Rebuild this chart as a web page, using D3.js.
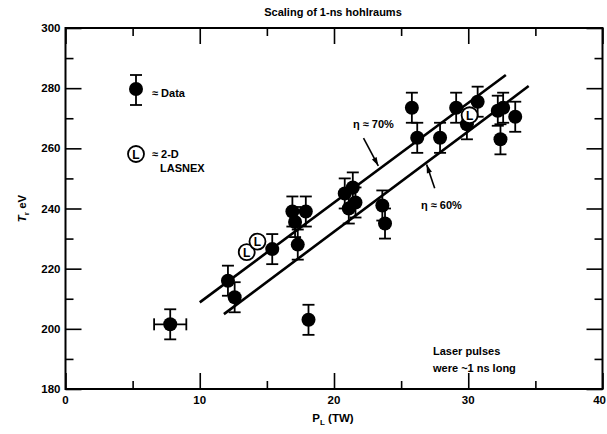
<!DOCTYPE html>
<html><head><meta charset="utf-8">
<script src="https://cdn.jsdelivr.net/npm/d3@7"></script>
<style>
body{margin:0;background:#fff;}
text{font-family:"Liberation Sans",Arial,sans-serif;font-weight:bold;fill:#000;}
</style></head>
<body><svg id="c" width="607" height="434"></svg>
<script>
// Data
const dataP = [7.8, 12.1, 12.6, 15.4, 16.9, 17.9, 17.1, 17.3, 18.1, 20.8, 21.4, 21.6, 21.1, 23.6, 23.8, 25.8, 26.2, 27.9, 29.1, 29.9, 30.7, 32.2, 32.6, 32.4, 33.5];
const dataT = [201.5, 216, 210.5, 226.5, 239, 239, 235.5, 228, 203, 245, 247, 242, 240, 241, 235, 273.5, 263.5, 263.5, 273.5, 268, 275.5, 272.5, 273.5, 263, 270.5];
const dataTErr = 5;
const dataPErr = [1.2, 0,0,0,0,0,0,0,0,0,0,0,0,0,0,0,0,0,0,0,0,0,0,0,0];
const lasnexP = [13.5, 14.3, 30.1];
const lasnexT = [225.5, 229, 271];
const line70 = [[10.0, 208.8], [32.8, 284.4]];
const line60 = [[11.8, 204.9], [34.5, 280.7]];
const xTicks = [0, 10, 20, 30, 40];
const xMinor = [5, 15, 25, 35];
const yTicks = [180, 200, 220, 240, 260, 280, 300];
const yMinor = [190, 210, 230, 250, 270, 290];

const svg = d3.select("#c");
const L = 65.5, R = 602.5, T = 28, B = 389;
const x = d3.scaleLinear().domain([0, 40]).range([L, R]);
const y = d3.scaleLinear().domain([180, 300]).range([B, T]);

// axes with inward ticks
function ax(gen, tr, vals, len) {
  svg.append("g").attr("transform", tr)
    .call(gen.tickValues(vals).tickSize(len).tickFormat(""))
    .call(g => g.select(".domain").remove())
    .call(g => g.selectAll("line").attr("stroke", "#000").attr("stroke-width", 1.6));
}
ax(d3.axisTop(x), `translate(0,${B})`, xTicks, 16);
ax(d3.axisTop(x), `translate(0,${B})`, xMinor, 8);
ax(d3.axisBottom(x), `translate(0,${T})`, xTicks, 16);
ax(d3.axisBottom(x), `translate(0,${T})`, xMinor, 8);
ax(d3.axisRight(y), `translate(${L},0)`, yTicks, 16);
ax(d3.axisRight(y), `translate(${L},0)`, yMinor, 8);
ax(d3.axisLeft(y), `translate(${R},0)`, yTicks, 16);
ax(d3.axisLeft(y), `translate(${R},0)`, yMinor, 8);

svg.append("rect").attr("x", L).attr("y", T).attr("width", R - L).attr("height", B - T)
  .attr("fill", "none").attr("stroke", "#000").attr("stroke-width", 2);

// tick labels
svg.append("g").selectAll("text").data(xTicks).join("text")
  .attr("x", d => d === 40 ? 606 : x(d)).attr("y", B + 15)
  .attr("text-anchor", d => d === 40 ? "end" : "middle")
  .attr("font-size", 11.5).text(d => d);
svg.append("g").selectAll("text").data(yTicks).join("text")
  .attr("x", L - 5).attr("y", d => y(d) + 4).attr("text-anchor", "end")
  .attr("font-size", 11.5).text(d => d);

// title & axis titles
svg.append("text").attr("x", 333).attr("y", 16).attr("text-anchor", "middle")
  .attr("font-size", 11).text("Scaling of 1-ns hohlraums");
const xl = svg.append("text").attr("x", 333).attr("y", 422).attr("text-anchor", "middle").attr("font-size", 11.5);
xl.append("tspan").text("P");
xl.append("tspan").attr("font-size", 8).attr("dy", 3).text("L");
xl.append("tspan").attr("dy", -3).text(" (TW)");
const yl = svg.append("text").attr("transform", `translate(26,${(T + B) / 2}) rotate(-90)`)
  .attr("text-anchor", "middle").attr("font-size", 11.5);
yl.append("tspan").attr("font-style", "italic").text("T");
yl.append("tspan").attr("font-size", 8).attr("dy", 3).text("r");
yl.append("tspan").attr("dy", -3).text(" eV");

// fit lines
const lg = d3.line().x(d => x(d[0])).y(d => y(d[1]));
[line70, line60].forEach(l => svg.append("path").attr("d", lg(l))
  .attr("stroke", "#000").attr("stroke-width", 2.6).attr("fill", "none"));

// data points with error bars
const cap = 6;
const pts = dataP.map((p, i) => ({p, t: dataT[i], xe: dataPErr[i]}));
const eg = svg.append("g").attr("stroke", "#000").attr("stroke-width", 1.8);
pts.forEach(d => {
  const cx = x(d.p), cy = y(d.t), y1 = y(d.t + dataTErr), y2 = y(d.t - dataTErr);
  eg.append("line").attr("x1", cx).attr("x2", cx).attr("y1", y1).attr("y2", y2);
  eg.append("line").attr("x1", cx - cap).attr("x2", cx + cap).attr("y1", y1).attr("y2", y1);
  eg.append("line").attr("x1", cx - cap).attr("x2", cx + cap).attr("y1", y2).attr("y2", y2);
  if (d.xe > 0) {
    const x1 = x(d.p - d.xe), x2 = x(d.p + d.xe);
    eg.append("line").attr("x1", x1).attr("x2", x2).attr("y1", cy).attr("y2", cy);
    eg.append("line").attr("x1", x1).attr("x2", x1).attr("y1", cy - cap).attr("y2", cy + cap);
    eg.append("line").attr("x1", x2).attr("x2", x2).attr("y1", cy - cap).attr("y2", cy + cap);
  }
});
svg.append("g").selectAll("circle").data(pts).join("circle")
  .attr("cx", d => x(d.p)).attr("cy", d => y(d.t)).attr("r", 7).attr("fill", "#000");

// LASNEX
const lp = lasnexP.map((p, i) => ({p, t: lasnexT[i]}));
const lgp = svg.append("g").selectAll("g").data(lp).join("g")
  .attr("transform", d => `translate(${x(d.p)},${y(d.t)})`);
lgp.append("circle").attr("r", 8).attr("fill", "#fff").attr("stroke", "#000").attr("stroke-width", 1.8);
lgp.append("text").attr("text-anchor", "middle").attr("y", 4.5).attr("font-size", 12).text("L");

// arrows & annotations
function arrow(x1, y1, x2, y2) {
  svg.append("line").attr("x1", x1).attr("y1", y1).attr("x2", x2).attr("y2", y2)
    .attr("stroke", "#000").attr("stroke-width", 1.6);
  const a = Math.atan2(y2 - y1, x2 - x1), s = 9;
  const p = [[x2, y2], [x2 - s * Math.cos(a - 0.3), y2 - s * Math.sin(a - 0.3)],
             [x2 - s * Math.cos(a + 0.3), y2 - s * Math.sin(a + 0.3)]];
  svg.append("path").attr("d", "M" + p.join("L") + "Z").attr("fill", "#000");
}
arrow(x(22.2), y(263.4), x(23.3), y(254.2));
arrow(x(27.5), y(246.7), x(26.9), y(254.6));
svg.append("text").attr("x", 353).attr("y", 128).attr("font-size", 11).text("η ≈ 70%");
svg.append("text").attr("x", 421).attr("y", 209).attr("font-size", 11).text("η ≈ 60%");
svg.append("text").attr("x", 433).attr("y", 355).attr("font-size", 11).text("Laser pulses");
svg.append("text").attr("x", 433).attr("y", 372).attr("font-size", 11).text("were ~1 ns long");

// legend
const lx = 136;
svg.append("line").attr("x1", lx).attr("x2", lx).attr("y1", 75).attr("y2", 105).attr("stroke", "#000").attr("stroke-width", 1.8);
svg.append("line").attr("x1", lx - cap).attr("x2", lx + cap).attr("y1", 75).attr("y2", 75).attr("stroke", "#000").attr("stroke-width", 1.8);
svg.append("line").attr("x1", lx - cap).attr("x2", lx + cap).attr("y1", 105).attr("y2", 105).attr("stroke", "#000").attr("stroke-width", 1.8);
svg.append("circle").attr("cx", lx).attr("cy", 89).attr("r", 7).attr("fill", "#000");
svg.append("text").attr("x", 152).attr("y", 97).attr("font-size", 11).text("≈ Data");
svg.append("circle").attr("cx", lx).attr("cy", 154).attr("r", 8).attr("fill", "#fff").attr("stroke", "#000").attr("stroke-width", 1.8);
svg.append("text").attr("x", lx).attr("y", 158.5).attr("text-anchor", "middle").attr("font-size", 12).text("L");
svg.append("text").attr("x", 152).attr("y", 158).attr("font-size", 11).text("≈ 2-D");
svg.append("text").attr("x", 160).attr("y", 172).attr("font-size", 11).text("LASNEX");
</script></body></html>
